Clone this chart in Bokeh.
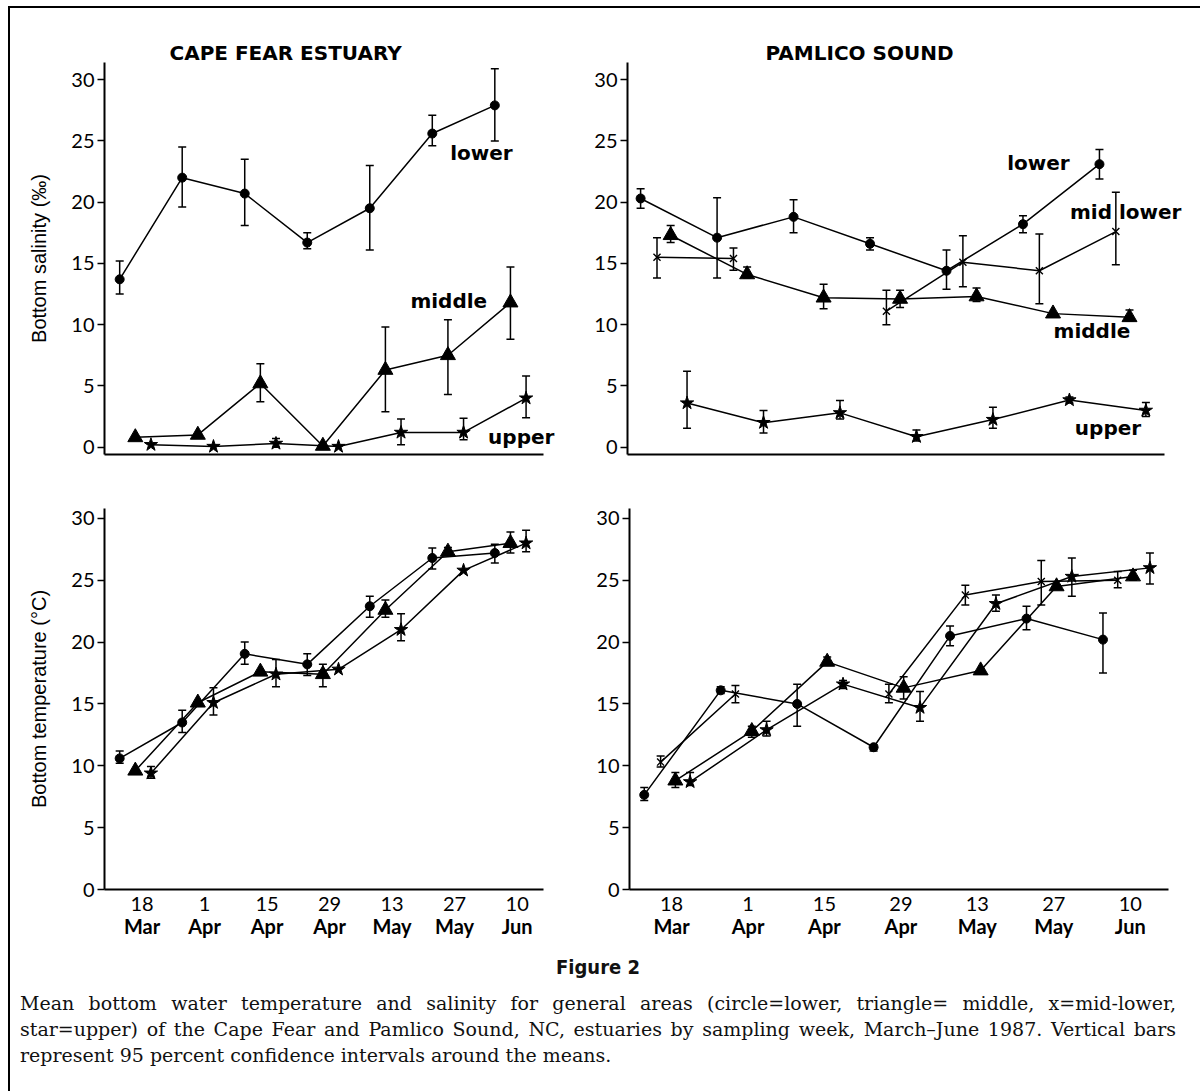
from bokeh.plotting import figure
from bokeh.models import (ColumnDataSource, Whisker, TeeHead, FixedTicker,
                          LinearAxis, Label, Div, Range1d)
from bokeh.layouts import column, row
from bokeh.embed import file_html
from bokeh.resources import INLINE

# ---------------- data (x = days after 18 March 1987) ----------------
tick_days = [0, 14, 28, 42, 56, 70, 84]
tick_day_labels = ["18", "1", "15", "29", "13", "27", "10"]
tick_month_labels = ["Mar", "Apr", "Apr", "Apr", "May", "May", "Jun"]
y_ticks = [0, 5, 10, 15, 20, 25, 30]

# Cape Fear, bottom salinity
cf_sal_lower_x = [-5, 9, 23, 37, 51, 65, 79]
cf_sal_lower = [13.7, 22.0, 20.7, 16.7, 19.5, 25.6, 27.9]
cf_sal_lower_lo = [12.5, 19.6, 18.1, 16.2, 16.1, 24.6, 25.0]
cf_sal_lower_hi = [15.2, 24.5, 23.5, 17.5, 23.0, 27.1, 30.9]
cf_sal_middle_x = [-1.5, 12.5, 26.5, 40.5, 54.5, 68.5, 82.5]
cf_sal_middle = [0.8, 1.0, 5.2, 0.1, 6.3, 7.5, 11.8]
cf_sal_middle_lo = [None, None, 3.7, None, 2.9, 4.3, 8.8]
cf_sal_middle_hi = [None, None, 6.8, None, 9.8, 10.4, 14.7]
cf_sal_upper_x = [2, 16, 30, 44, 58, 72, 86]
cf_sal_upper = [0.2, 0.05, 0.3, 0.05, 1.2, 1.2, 4.0]
cf_sal_upper_lo = [None, None, 0.0, None, 0.2, 0.6, 2.4]
cf_sal_upper_hi = [None, None, 0.7, None, 2.3, 2.35, 5.8]

# Pamlico Sound, bottom salinity
ps_sal_lower_x = [-6, 8, 22, 36, 50, 64, 78]
ps_sal_lower = [20.3, 17.1, 18.8, 16.6, 14.4, 18.2, 23.1]
ps_sal_lower_lo = [19.5, 13.8, 17.5, 16.1, 12.9, 17.5, 21.9]
ps_sal_lower_hi = [21.1, 20.35, 20.2, 17.1, 16.1, 18.9, 24.3]
ps_sal_midlower_x = [-3, 11, 25, 39, 53, 67, 81]
ps_sal_midlower = [15.5, 15.4, None, 11.1, 15.1, 14.4, 17.6]
ps_sal_midlower_lo = [13.8, 14.45, None, 10.0, 13.1, 11.7, 14.9]
ps_sal_midlower_hi = [17.1, 16.25, None, 12.8, 17.25, 17.4, 20.8]
ps_sal_middle_x = [-0.5, 13.5, 27.5, 41.5, 55.5, 69.5, 83.5]
ps_sal_middle = [17.3, 14.1, 12.2, 12.1, 12.3, 10.9, 10.6]
ps_sal_middle_lo = [16.7, 13.8, 11.3, 11.4, 11.9, None, 10.3]
ps_sal_middle_hi = [18.1, 14.7, 13.3, 12.8, 13.0, None, 11.2]
ps_sal_upper_x = [2.5, 16.5, 30.5, 44.5, 58.5, 72.5, 86.5]
ps_sal_upper = [3.6, 2.0, 2.8, 0.85, 2.25, 3.85, 3.0]
ps_sal_upper_lo = [1.55, 1.15, 2.3, 0.5, 1.55, 3.6, 2.5]
ps_sal_upper_hi = [6.2, 3.0, 3.8, 1.4, 3.25, 4.1, 3.65]

# Cape Fear, bottom temperature
cf_tmp_lower_x = [-5, 9, 23, 37, 51, 65, 79]
cf_tmp_lower = [10.6, 13.5, 19.05, 18.2, 22.9, 26.8, 27.2]
cf_tmp_lower_lo = [10.2, 12.7, 18.2, 17.3, 22.0, 25.9, 26.4]
cf_tmp_lower_hi = [11.2, 14.5, 20.0, 19.05, 23.7, 27.6, 27.9]
cf_tmp_middle_x = [-1.5, 12.5, 26.5, 40.5, 54.5, 68.5, 82.5]
cf_tmp_middle = [9.6, 15.1, 17.6, 17.4, 22.6, 27.3, 28.0]
cf_tmp_middle_lo = [None, None, None, 16.4, 22.0, 27.0, 27.2]
cf_tmp_middle_hi = [None, None, None, 18.2, 23.4, 27.65, 28.9]
cf_tmp_upper_x = [2, 16, 30, 44, 58, 72, 86]
cf_tmp_upper = [9.4, 15.1, 17.4, 17.8, 21.0, 25.8, 28.0]
cf_tmp_upper_lo = [9.0, 14.1, 16.4, None, 20.1, None, 27.3]
cf_tmp_upper_hi = [9.95, 16.3, 18.6, None, 22.3, None, 29.05]

# Pamlico Sound, bottom temperature
ps_tmp_lower_x = [-5, 9, 23, 37, 51, 65, 79]
ps_tmp_lower = [7.65, 16.1, 15.0, 11.5, 20.5, 21.9, 20.2]
ps_tmp_lower_lo = [7.2, 15.85, 13.2, 11.2, 19.7, 21.0, 17.5]
ps_tmp_lower_hi = [8.25, 16.4, 16.6, 11.7, 21.3, 22.9, 22.35]
ps_tmp_midlower_x = [-2, 11.7, 25.5, 39.8, 53.8, 67.7, 81.7]
ps_tmp_midlower = [10.3, 15.8, None, 15.8, 23.8, 24.9, 25.0]
ps_tmp_midlower_lo = [9.9, 15.1, None, 15.1, 23.0, 23.0, 24.4]
ps_tmp_midlower_hi = [10.8, 16.5, None, 16.6, 24.6, 26.6, 25.7]
ps_tmp_middle_x = [0.7, 14.7, 28.5, 42.5, 56.6, 70.5, 84.5]
ps_tmp_middle = [8.8, 12.8, 18.4, 16.3, 17.7, 24.5, 25.3]
ps_tmp_middle_lo = [8.25, 12.3, 18.2, 15.4, None, None, 25.0]
ps_tmp_middle_hi = [9.45, 13.2, 18.8, 17.2, None, None, 25.8]
ps_tmp_upper_x = [3.4, 17.4, 31.4, 45.5, 59.4, 73.3, 87.6]
ps_tmp_upper = [8.7, 12.9, 16.6, 14.7, 23.1, 25.3, 26.0]
ps_tmp_upper_lo = [8.4, 12.4, 16.25, 13.6, 22.5, 23.7, 24.7]
ps_tmp_upper_hi = [9.45, 13.6, 16.9, 16.0, 23.8, 26.8, 27.2]

TICK_FONT = "Lato"
LABEL_FONT = "DejaVu Sans"


def nan(v):
    return float("nan") if v is None else v


MARKERS = {
    "circle": dict(marker="circle", size=9),
    "triangle": dict(marker="triangle", size=15),
    "x": dict(marker="x", size=10, line_width=1.4),
    "star": dict(marker="star", size=14),
}


def draw_series(p, xs, ys, lo, hi, kind):
    p.line(xs, [nan(v) for v in ys], line_color="black", line_width=1.5)
    ok = [(x, a, b) for x, a, b in zip(xs, lo, hi) if a is not None and b is not None]
    if ok:
        src = ColumnDataSource(dict(x=[t[0] for t in ok], lo=[t[1] for t in ok],
                                    hi=[t[2] for t in ok]))
        w = Whisker(source=src, base="x", lower="lo", upper="hi",
                    dimension="height", line_color="black", line_width=1.5,
                    upper_head=TeeHead(size=8, line_width=1.5, line_color="black"),
                    lower_head=TeeHead(size=8, line_width=1.5, line_color="black"))
        p.add_layout(w)
    px = [x for x, v in zip(xs, ys) if v is not None]
    py = [v for v in ys if v is not None]
    p.scatter(px, py, line_color="black", fill_color="black", **MARKERS[kind])


def make_fig(width, height, mb_left, mb_right, mb_top, mb_bottom,
             x_range, x_bounds, y_range, bottom_labels, ylabel=None):
    p = figure(width=width, height=height, output_backend="svg",
               toolbar_location=None, x_range=Range1d(*x_range),
               y_range=Range1d(*y_range), min_border_left=mb_left,
               min_border_right=mb_right, min_border_top=mb_top,
               min_border_bottom=mb_bottom, background_fill_color="white",
               border_fill_color="white")
    p.outline_line_color = None
    p.xgrid.visible = False
    p.ygrid.visible = False
    ya = p.yaxis[0]
    ya.ticker = FixedTicker(ticks=y_ticks)
    ya.axis_line_width = 2
    ya.major_tick_line_width = 1.5
    ya.major_tick_out = 7
    ya.major_tick_in = 0
    ya.minor_tick_line_color = None
    ya.major_label_standoff = 3
    ya.major_label_text_font = TICK_FONT
    ya.major_label_text_font_size = "20px"
    ya.major_label_text_color = "black"
    if ylabel:
        ya.axis_label = ylabel
        ya.axis_label_text_font = "Liberation Sans"
        ya.axis_label_text_font_size = "20px"
        ya.axis_label_text_font_style = "normal"
        ya.axis_label_text_color = "black"
        ya.axis_label_standoff = 18
    xa = p.xaxis[0]
    xa.bounds = x_bounds
    xa.axis_line_width = 2
    xa.minor_tick_line_color = None
    xa.major_tick_out = 0
    xa.major_tick_in = 0
    if bottom_labels:
        xa.ticker = FixedTicker(ticks=tick_days)
        xa.major_label_overrides = {d: s for d, s in zip(tick_days, tick_day_labels)}
        xa.major_label_text_font = TICK_FONT
        xa.major_label_text_font_size = "20px"
        xa.major_label_text_color = "black"
        xa.major_label_standoff = 7
        xa2 = LinearAxis(ticker=FixedTicker(ticks=tick_days),
                         major_label_overrides={d: s for d, s in zip(tick_days, tick_month_labels)},
                         axis_line_color=None, major_tick_line_color=None,
                         minor_tick_line_color=None, major_tick_out=0,
                         major_tick_in=0, major_label_standoff=0,
                         major_label_text_font=TICK_FONT,
                         major_label_text_font_size="20px",
                         major_label_text_color="black",
                         major_label_text_font_style="bold")
        p.add_layout(xa2, "below")
    else:
        xa.ticker = FixedTicker(ticks=[])
        xa.major_label_text_font_size = "0px"
    return p


def add_title(p, text, offset):
    p.title.text = text
    p.title.align = "left"
    p.title.offset = offset
    p.title.text_font = LABEL_FONT
    p.title.text_font_size = "20px"
    p.title.text_font_style = "bold"
    p.title.text_color = "black"
    p.title.standoff = -4


def add_label(p, x, y, text):
    p.add_layout(Label(x=x, y=y, text=text, text_font=LABEL_FONT,
                       text_font_size="20px", text_font_style="bold",
                       text_align="left", text_baseline="middle",
                       text_color="black"))


# ---------------- panels ----------------
p1 = make_fig(560, 465, 94, 2, 54, 19, (-8.4, 95.5), (-8.4, 89.9), (-0.6, 31.4), False,
              "Bottom salinity (\u2030)")
add_title(p1, "CAPE FEAR ESTUARY", 65)
draw_series(p1, cf_sal_lower_x, cf_sal_lower, cf_sal_lower_lo, cf_sal_lower_hi, "circle")
draw_series(p1, cf_sal_middle_x, cf_sal_middle, cf_sal_middle_lo, cf_sal_middle_hi, "triangle")
draw_series(p1, cf_sal_upper_x, cf_sal_upper, cf_sal_upper_lo, cf_sal_upper_hi, "star")
add_label(p1, 69.0, 24.0, "lower")
add_label(p1, 60.1, 11.9, "middle")
add_label(p1, 77.5, 0.84, "upper")

p2 = make_fig(624, 465, 57, 0, 54, 19, (-8.4, 95.4), (-8.4, 89.9), (-0.6, 31.4), False)
add_title(p2, "PAMLICO SOUND", 138)
draw_series(p2, ps_sal_lower_x, ps_sal_lower, ps_sal_lower_lo, ps_sal_lower_hi, "circle")
draw_series(p2, ps_sal_midlower_x, ps_sal_midlower, ps_sal_midlower_lo, ps_sal_midlower_hi, "x")
draw_series(p2, ps_sal_middle_x, ps_sal_middle, ps_sal_middle_lo, ps_sal_middle_hi, "triangle")
draw_series(p2, ps_sal_upper_x, ps_sal_upper, ps_sal_upper_lo, ps_sal_upper_hi, "star")
add_label(p2, 61.1, 23.2, "lower")
add_label(p2, 72.6, 19.2, "mid lower")
add_label(p2, 69.6, 9.5, "middle")
add_label(p2, 73.5, 1.56, "upper")

p3 = make_fig(560, 478, 94, 27, 35, 62, (-8.4, 89.9), (-8.4, 89.9), (0, 30.8), True,
              "Bottom temperature (\u00b0C)")
draw_series(p3, cf_tmp_lower_x, cf_tmp_lower, cf_tmp_lower_lo, cf_tmp_lower_hi, "circle")
draw_series(p3, cf_tmp_middle_x, cf_tmp_middle, cf_tmp_middle_lo, cf_tmp_middle_hi, "triangle")
draw_series(p3, cf_tmp_upper_x, cf_tmp_upper, cf_tmp_upper_lo, cf_tmp_upper_hi, "star")

p4 = make_fig(624, 478, 59, 26, 35, 62, (-7.7, 91.0), (-7.7, 91.0), (0, 30.8), True)
draw_series(p4, ps_tmp_lower_x, ps_tmp_lower, ps_tmp_lower_lo, ps_tmp_lower_hi, "circle")
draw_series(p4, ps_tmp_midlower_x, ps_tmp_midlower, ps_tmp_midlower_lo, ps_tmp_midlower_hi, "x")
draw_series(p4, ps_tmp_middle_x, ps_tmp_middle, ps_tmp_middle_lo, ps_tmp_middle_hi, "triangle")
draw_series(p4, ps_tmp_upper_x, ps_tmp_upper, ps_tmp_upper_lo, ps_tmp_upper_hi, "star")

SERIF = "'DejaVu Serif','Liberation Serif','Noto Serif',serif"
caption_html = (
    "<div style=\"width:1166px;padding-left:10px;color:#111;\">"
    "<div style=\"text-align:center;font-family:'Liberation Sans Narrow','DejaVu Sans Condensed','Roboto Condensed','Liberation Sans',sans-serif;"
    "font-weight:bold;font-size:20px;line-height:26px;padding-top:3px;\">Figure 2</div>"
    "<div style=\"font-family:" + SERIF + ";font-size:19px;line-height:26px;margin-top:10px;white-space:nowrap;\">"
    "<div style=\"text-align:justify;text-align-last:justify;\">Mean bottom water temperature and salinity for general areas (circle=lower, triangle= middle, x=mid-lower,</div>"
    "<div style=\"text-align:justify;text-align-last:justify;\">star=upper) of the Cape Fear and Pamlico Sound, NC, estuaries by sampling week, March\u2013June 1987. Vertical bars</div>"
    "<div>represent 95 percent confidence intervals around the means.</div>"
    "</div></div>"
)
caption = Div(text=caption_html, width=1184, height=126, margin=0)

top_line = Div(text="", width=1192, height=2, margin=0,
               styles={"background-color": "black"})
left_line = Div(text="", width=2, height=1083, margin=0,
                styles={"background-color": "black"})
inner = column(row(p1, p2), row(p3, p4), caption)
layout = column(top_line, row(left_line, inner), margin=(6, 0, 0, 8))

open("out.html", "w").write(file_html(layout, INLINE))
